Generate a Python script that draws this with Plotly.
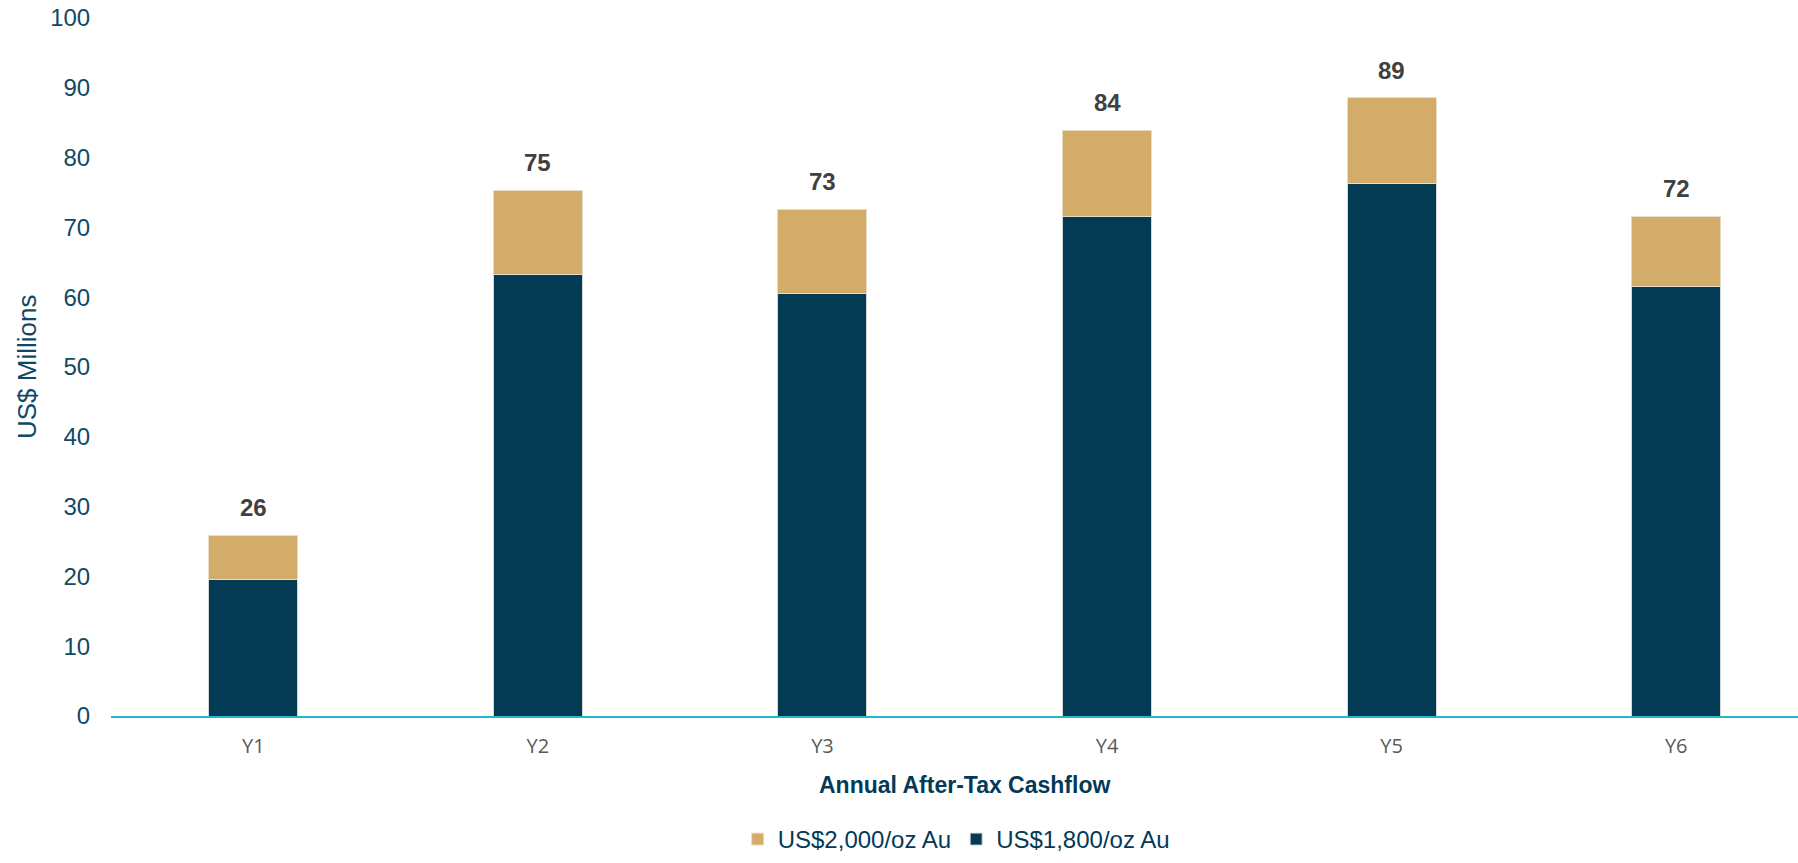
import plotly.graph_objects as go

categories = ["Y1", "Y2", "Y3", "Y4", "Y5", "Y6"]
base_1800 = [19.5, 63.2, 60.5, 71.5, 76.3, 61.5]        # US$1,800/oz Au
uplift_2000 = [6.4, 12.1, 12.1, 12.4, 12.3, 10.1]       # additional at US$2,000/oz Au
y_ticks = [0, 10, 20, 30, 40, 50, 60, 70, 80, 90, 100]

totals = [b + u for b, u in zip(base_1800, uplift_2000)]

NAVY = "#033a54"
GOLD = "#d3ac6a"
TEAL_TEXT = "#0f4966"
AXIS_CYAN = "#22b7cf"

W, H = 1798, 863
ML, MR, MT, MB = 111, 0, 18, 147
PH = H - MT - MB

fig = go.Figure()
fig.add_trace(go.Bar(
    x=categories, y=base_1800, name="US$1,800/oz Au",
    marker=dict(color=NAVY, line=dict(color="#d6d6d6", width=1)),
    width=0.313, legendrank=2,
))
fig.add_trace(go.Bar(
    x=categories, y=uplift_2000, name="US$2,000/oz Au",
    marker=dict(color=GOLD, line=dict(color="#e8dcc6", width=1)),
    width=0.313, legendrank=1,
))

# total labels above each stack
for c, t in zip(categories, totals):
    fig.add_annotation(
        x=c, y=t, xref="x", yref="y", text=f"<b>{round(t)}</b>",
        showarrow=False, yanchor="bottom", yshift=12,
        font=dict(family="Liberation Sans, Arial", size=24, color="#404040"),
    )

# x-axis title centred on the category band
fig.add_annotation(
    x=2.5, y=(H - MB - 785) / PH, xref="x", yref="paper",
    text="<b>Annual After-Tax Cashflow</b>",
    showarrow=False, yanchor="middle",
    font=dict(family="Liberation Sans, Arial", size=23, color="#043a56"),
)

fig.add_annotation(
    x=0, y=(716 - 366.5) / PH, xref="paper", yref="paper", xshift=-(ML - 27.5),
    text="US$ Millions", textangle=-90, showarrow=False,
    xanchor="center", yanchor="middle",
    font=dict(family="Liberation Sans, Arial", size=26, color=TEAL_TEXT),
)

fig.update_layout(
    width=W, height=H,
    margin=dict(l=ML, r=MR, t=MT, b=MB),
    barmode="stack",
    plot_bgcolor="white", paper_bgcolor="white",
    showlegend=True,
    legend=dict(
        orientation="h", x=0.501, xanchor="center",
        y=-(MB - 1) / PH, yanchor="bottom",
        font=dict(family="Liberation Sans, Arial", size=24, color="#043a56"),
        traceorder="normal", itemwidth=30,
    ),
    xaxis=dict(
        range=[-0.5, 5.428], showgrid=False, showline=True,
        linecolor=AXIS_CYAN, linewidth=2, ticks="outside", ticklen=11,
        tickcolor="rgba(0,0,0,0)",
        tickfont=dict(family="Open Sans, Noto Sans", size=20, color="#595959"),
    ),
    yaxis=dict(
        range=[0, 100], tickvals=y_ticks, showgrid=False, zeroline=False,
        showline=False, ticks="outside", ticklen=15, tickcolor="rgba(0,0,0,0)",
        tickfont=dict(family="Liberation Sans, Arial", size=24, color=TEAL_TEXT),
    ),
)

fig.write_html("out.html")
